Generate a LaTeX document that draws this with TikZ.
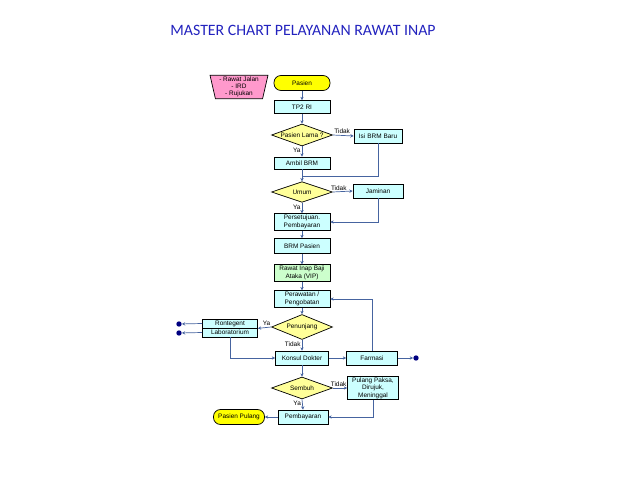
\documentclass[tikz,border=0pt]{standalone}
\usepackage{fontspec}
\setmainfont{Liberation Sans}
\newfontfamily\titlefont{Carlito}
\usetikzlibrary{arrows.meta,shapes.geometric,calc}

\definecolor{flowline}{RGB}{70,100,160}
\definecolor{boxcyan}{RGB}{204,255,255}
\definecolor{decyellow}{RGB}{255,255,153}
\definecolor{termyellow}{RGB}{255,255,0}
\definecolor{srcpink}{RGB}{255,153,204}
\definecolor{vipgreen}{RGB}{204,255,204}
\definecolor{dotnavy}{RGB}{0,0,128}
\definecolor{titleblue}{RGB}{35,35,190}

\begin{document}
\begin{tikzpicture}[x=0.03cm, y=-0.03cm, font=\fontsize{5.5}{6.5}\selectfont, every node/.style={align=center}, line/.style={-{Stealth[length=1mm,width=1mm]}, line width=0.6pt, draw=flowline}]

% styles
\tikzset{
  box/.style={rectangle, draw=black, line width=0.6pt, fill=boxcyan, minimum width=1.68cm, minimum height=0.39cm, inner sep=1pt},
  tallbox/.style={box, minimum height=0.5cm},
  sidebox/.style={box, minimum width=1.5cm, minimum height=0.42cm},
  decision/.style={diamond, aspect=2.8, draw=black, line width=0.6pt, fill=decyellow, minimum width=1.83cm, minimum height=0.66cm, inner sep=0pt},
  terminal/.style={rectangle, rounded corners=0.21cm, draw=black, line width=0.6pt, fill=termyellow, minimum width=1.56cm, minimum height=0.45cm, inner sep=1pt},
  source/.style={trapezium, trapezium angle=78, trapezium stretches=true, shape border rotate=180, draw=black, line width=0.6pt, fill=srcpink, minimum width=1.74cm, minimum height=0.7cm, inner sep=0.5pt},
  endpoint/.style={circle, fill=dotnavy, minimum size=0.16cm, inner sep=0pt},
  lbl/.style={inner sep=1pt}
}

\useasboundingbox (0,0) rectangle (638,479);

\node[font=\titlefont\fontsize{13.5}{15}\selectfont, text=titleblue] (title) at (303,30) {MASTER CHART PELAYANAN RAWAT INAP};

% main column
\node[source, font=\fontsize{5.5}{6.2}\selectfont] (sumber) at (239,87) {- Rawat Jalan\\- IRD\\- Rujukan};
\node[terminal, minimum width=1.68cm] (pasien) at (302,83) {Pasien};
\node[box] (tp2) at (302,107) {TP2 RI};
\node[decision] (lama) at (302,135) {Pasien Lama ?};
\node[sidebox, minimum width=1.44cm] (isibrm) at (378,136) {Isi\,\,BRM Baru};
\node[box, minimum height=0.36cm] (ambil) at (302,163) {Ambil BRM};
\node[decision, minimum height=0.62cm] (umum) at (302,192) {Umum};
\node[sidebox] (jaminan) at (378,191) {Jaminan};
\node[tallbox] (setuju) at (302,222) {Persetujuan.\\Pembayaran};
\node[tallbox, minimum height=0.45cm] (brm) at (302,246) {BRM Pasien};
\node[tallbox, fill=vipgreen] (vip) at (302,273) {Rawat Inap Baji\\Ataka (VIP)};
\node[tallbox] (rawat) at (302,299) {Perawatan /\\Pengobatan};
\node[decision, minimum height=0.75cm] (penunjang) at (302,327) {Penunjang};

% penunjang branch
\node[box, minimum width=1.65cm, minimum height=0.27cm, inner sep=0pt] (ront) at (230,323.5) {Rontegent};
\node[box, minimum width=1.65cm, minimum height=0.27cm, inner sep=0pt] (lab) at (230,332.5) {Laboratorium};
\node[endpoint] (dotR) at (179,324) {};
\node[endpoint] (dotL) at (179,333) {};

\node[box, minimum width=1.59cm, minimum height=0.42cm] (konsul) at (302,358) {Konsul Dokter};
\node[box, minimum width=1.53cm, minimum height=0.42cm] (farmasi) at (372,358) {Farmasi};
\node[endpoint] (dotF) at (416,358) {};

\node[decision] (sembuh) at (302,388) {Sembuh};
\node[box, minimum width=1.53cm, minimum height=0.66cm] (pulang) at (373,388) {Pulang Paksa,\\Dirujuk,\\Meninggal};
\node[box, minimum width=1.5cm, minimum height=0.42cm] (bayar) at (303,417) {Pembayaran};
\node[terminal, minimum width=1.53cm] (ppulang) at (239,417) {Pasien Pulang};

% joins
\coordinate (jIsi) at (302,176);

% connectors
\draw[line] (pasien) -- (tp2);
\draw[line] (tp2) -- (lama);
\draw[line] (lama.east) -- (isibrm.west) node[lbl, pos=0.45, above] {Tidak};
\draw[line] (lama.south) -- (ambil.north) node[lbl, pos=0.4, left] {Ya};
\draw[line] (ambil.south) -- (umum.north);
\draw[line width=0.6pt, draw=flowline] (isibrm.south) |- (jIsi);
\draw[line] (umum.east) -- (jaminan.west) node[lbl, pos=0.3, above] {Tidak};
\draw[line] (umum.south) -- (setuju.north) node[lbl, pos=0.45, left] {Ya};
\draw[line] (jaminan.south) |- (setuju.east);
\draw[line] (setuju) -- (brm);
\draw[line] (brm) -- (vip);
\draw[line] (vip) -- (rawat);
\draw[line] (rawat) -- (penunjang);
\draw[line] (penunjang.west) -- (ront.south east) node[lbl, pos=0.35, above] {Ya};
\draw[line] (ront.west) -- (dotR);
\draw[line] (lab.west) -- (dotL);
\draw[line] (lab.south) |- (konsul.west);
\draw[line] (penunjang.south) -- (konsul.north) node[lbl, pos=0.4, left] {Tidak};
\draw[line] (konsul) -- (farmasi);
\draw[line] (farmasi) -- (dotF);
\draw[line] (farmasi.north) |- (rawat.east);
\draw[line] (konsul) -- (sembuh);
\draw[line] (sembuh.east) -- (pulang.west) node[lbl, pos=0.4, above] {Tidak};
\draw[line] (sembuh.south) -- (bayar.north) node[lbl, pos=0.4, left] {Ya};
\draw[line] (pulang.south) |- (bayar.east);
\draw[line] (bayar) -- (ppulang);

\end{tikzpicture}
\end{document}
